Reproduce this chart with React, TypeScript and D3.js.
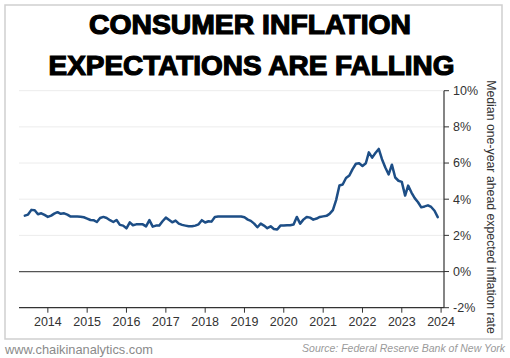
import React from "react";
import * as d3 from "d3";

const START_YEAR = 2013;
const START_MONTH = 5; // June (0-based)
const expectations: number[] = [
  // 2013 Jun-Dec
  3.09, 3.15, 3.41, 3.39, 3.17, 3.22, 3.13,
  // 2014
  3.02, 3.09, 3.2, 3.28, 3.19, 3.22, 3.15, 3.04, 3.04, 3.04, 3.03, 3.0,
  // 2015
  2.93, 2.85, 2.84, 2.74, 2.96, 3.02, 2.96, 2.84, 2.74, 2.85, 2.58, 2.54,
  // 2016
  2.39, 2.72, 2.56, 2.61, 2.61, 2.61, 2.5, 2.84, 2.48, 2.54, 2.54, 2.78,
  // 2017
  2.98, 2.85, 2.72, 2.82, 2.65, 2.58, 2.54, 2.5, 2.5, 2.54, 2.61, 2.84,
  // 2018
  2.71, 2.78, 2.76, 3.02, 3.04, 3.04, 3.04, 3.04, 3.04, 3.04, 3.04, 3.04,
  // 2019
  3.0, 2.87, 2.8, 2.65, 2.45, 2.65, 2.54, 2.4, 2.5, 2.35, 2.32, 2.54,
  // 2020
  2.54, 2.56, 2.56, 2.6, 3.02, 2.65, 2.87, 3.02, 2.98, 2.87, 2.93, 3.02,
  // 2021
  3.05, 3.08, 3.19, 3.4, 3.95, 4.76, 4.81, 5.17, 5.31, 5.66, 5.96, 5.99,
  // 2022
  5.84, 5.99, 6.59, 6.3, 6.55, 6.78, 6.21, 5.75, 5.37, 5.91, 5.2, 5.02,
  // 2023
  4.96, 4.2, 4.75, 4.37, 4.06, 3.83, 3.55, 3.6, 3.66, 3.57, 3.36, 3.01,
];
const yTicks: number[] = [-2, 0, 2, 4, 6, 8, 10];
const xTickYears: number[] = [2014, 2015, 2016, 2017, 2018, 2019, 2020, 2021, 2022, 2023, 2024];
const titleLines: string[] = ["CONSUMER INFLATION", "EXPECTATIONS ARE FALLING"];
const yAxisTitle = "Median one-year ahead expected inflation rate";
const siteText = "www.chaikinanalytics.com";
const sourceText = "Source: Federal Reserve Bank of New York";

const W = 510;
const H = 358;
const plotLeft = 19;
const plotRight = 444;
const plotTop = 90.7;
const plotBottom = 307.7;

export default function App() {
  const data = expectations.map((v, i) => ({
    date: new Date(START_YEAR, START_MONTH + i, 1),
    value: v,
  }));

  const x = d3
    .scaleTime()
    .domain([new Date(2013, 3, 8), new Date(2024, 0, 28)])
    .range([plotLeft, plotRight]);
  const y = d3.scaleLinear().domain([-2, 10]).range([plotBottom, plotTop]);

  const line = d3
    .line<{ date: Date; value: number }>()
    .x((d) => x(d.date))
    .y((d) => y(d.value))
    .curve(d3.curveLinear);

  const font = "'Liberation Sans', Arial, sans-serif";

  return (
    <svg
      width={W}
      height={H}
      style={{ position: "absolute", left: 0, top: 0, background: "#fff" }}
    >
      <rect x={0} y={0} width={W} height={H} fill="#fff" />
      <rect x={5} y={5} width={497} height={334} fill="none" stroke="#cfcfcf" strokeWidth={1.5} />

      {/* title */}
      <text
        x={250}
        y={33.5}
        textAnchor="middle"
        fontFamily={font}
        fontWeight={900}
        fontSize={27}
        fill="#000"
        stroke="#000"
        strokeWidth={1.2}
        textLength={322}
        lengthAdjust="spacingAndGlyphs"
      >
        {titleLines[0]}
      </text>
      <text
        x={251.5}
        y={75}
        textAnchor="middle"
        fontFamily={font}
        fontWeight={900}
        fontSize={27}
        fill="#000"
        stroke="#000"
        strokeWidth={1.2}
        textLength={406}
        lengthAdjust="spacingAndGlyphs"
      >
        {titleLines[1]}
      </text>

      {/* gridlines */}
      {yTicks
        .filter((t) => t > 0)
        .map((t) => (
          <line
            key={"g" + t}
            x1={plotLeft}
            x2={plotRight}
            y1={y(t)}
            y2={y(t)}
            stroke="#ececec"
            strokeWidth={1}
          />
        ))}
      {/* zero line */}
      <line x1={plotLeft} x2={plotRight} y1={y(0)} y2={y(0)} stroke="#555" strokeWidth={1.3} />
      {/* bottom axis */}
      <line x1={plotLeft} x2={plotRight} y1={y(-2)} y2={y(-2)} stroke="#333" strokeWidth={1.2} />
      {/* right axis */}
      <line x1={plotRight} x2={plotRight} y1={y(10)} y2={y(-2)} stroke="#333" strokeWidth={1.2} />

      {/* y ticks */}
      {yTicks.map((t) => (
        <g key={"yt" + t}>
          <line x1={plotRight} x2={plotRight + 5} y1={y(t)} y2={y(t)} stroke="#333" strokeWidth={1} />
          <text
            x={plotRight + 9}
            y={y(t)}
            dy="0.35em"
            fontFamily={font}
            fontSize={12.5}
            fill="#333"
          >
            {t}%
          </text>
        </g>
      ))}

      {/* x ticks */}
      {xTickYears.map((yr) => {
        const xx = x(new Date(yr, 0, 1));
        return (
          <g key={"xt" + yr}>
            <line x1={xx} x2={xx} y1={plotBottom} y2={plotBottom + 5} stroke="#333" strokeWidth={1} />
            <text
              x={xx}
              y={326}
              textAnchor="middle"
              fontFamily={font}
              fontSize={12.5}
              fill="#333"
            >
              {yr}
            </text>
          </g>
        );
      })}

      {/* data line */}
      <path
        d={line(data) || ""}
        fill="none"
        stroke="#1d4e86"
        strokeWidth={2.5}
        strokeLinejoin="round"
        strokeLinecap="round"
      />

      {/* y axis title */}
      <text
        transform={`translate(487,207) rotate(90)`}
        textAnchor="middle"
        fontFamily={font}
        fontSize={12.3}
        fill="#333"
      >
        {yAxisTitle}
      </text>

      {/* footer */}
      <text x={5} y={354} fontFamily={font} fontSize={12.8} fill="#8a8a8a">
        {siteText}
      </text>
      <text
        x={505}
        y={352}
        textAnchor="end"
        fontFamily={font}
        fontStyle="italic"
        fontSize={10.5}
        fill="#9a9a9a"
      >
        {sourceText}
      </text>
    </svg>
  );
}
